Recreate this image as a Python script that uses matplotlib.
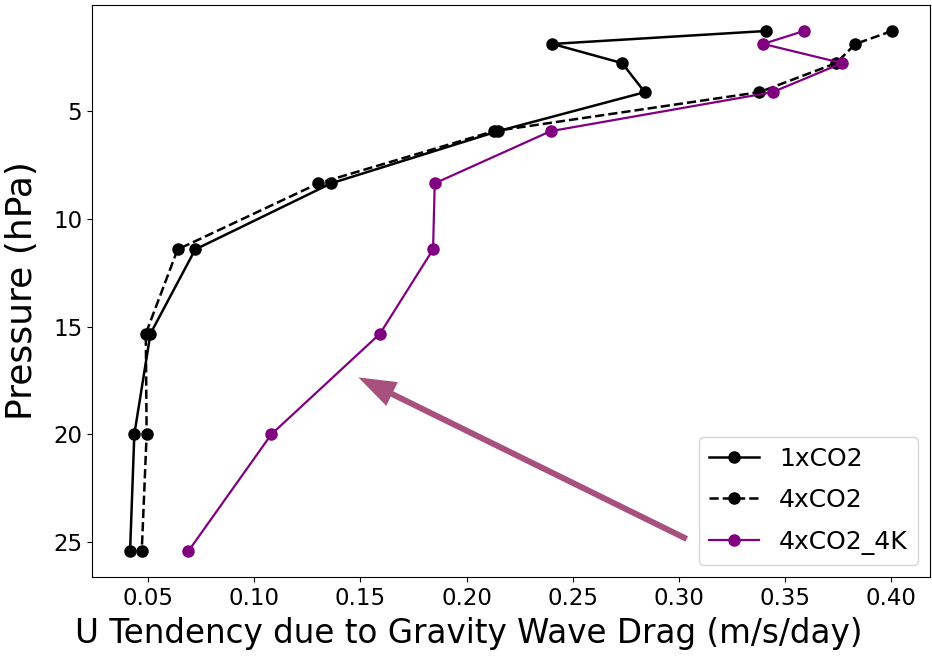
import matplotlib
matplotlib.use("Agg")
import matplotlib.pyplot as plt

# Pressure levels (hPa)
pressure = [1.28, 1.88, 2.77, 4.12, 5.93, 8.35, 11.42, 15.33, 20.0, 25.42]

# U tendency due to gravity wave drag (m/s/day)
u_1xco2 = [0.341, 0.2405, 0.2733, 0.284, 0.2148, 0.1362, 0.0721, 0.0510, 0.0434, 0.0414]
u_4xco2 = [0.4005, 0.3833, 0.3742, 0.338, 0.2128, 0.1302, 0.0638, 0.0488, 0.0492, 0.0469]
u_4xco2_4k = [0.359, 0.3398, 0.377, 0.3442, 0.2396, 0.185, 0.1842, 0.1592, 0.108, 0.0689]

labels = ["1xCO2", "4xCO2", "4xCO2_4K"]
xticks = [0.05, 0.10, 0.15, 0.20, 0.25, 0.30, 0.35, 0.40]
yticks = [5, 10, 15, 20, 25]

fig = plt.figure(figsize=(9.32, 6.58), dpi=100)
ax = fig.add_axes([0.0987, 0.123, 0.8992, 0.8694])

ax.plot(u_1xco2, pressure, '-o', color='black', lw=1.8, ms=8, label=labels[0])
ax.plot(u_4xco2, pressure, '--o', color='black', lw=1.8, ms=8, label=labels[1])
ax.plot(u_4xco2_4k, pressure, '-o', color='purple', lw=1.6, ms=8, label=labels[2])

ax.invert_yaxis()
ax.set_xticks(xticks)
ax.set_xticklabels([f"{t:.2f}" for t in xticks])
ax.set_yticks(yticks)
ax.tick_params(labelsize=16.5)

ax.set_xlabel("U Tendency due to Gravity Wave Drag (m/s/day)", fontsize=23.5)
ax.set_ylabel("Pressure (hPa)", fontsize=26)
ax.xaxis.set_label_coords(0.45, -0.07)
ax.yaxis.set_label_coords(-0.063, 0.5)

ax.annotate("", xy=(0.149, 17.36), xytext=(0.3038, 24.86),
            arrowprops=dict(arrowstyle="simple,head_length=2.7,head_width=1.9,tail_width=0.43",
                            mutation_scale=10, color="#a8517e", lw=0,
                            shrinkA=0, shrinkB=0),
            zorder=1)

leg = ax.legend(loc="lower right", fontsize=18, frameon=True, labelspacing=0.7)
leg.set_zorder(5)

fig.savefig("out.png", dpi=100)
